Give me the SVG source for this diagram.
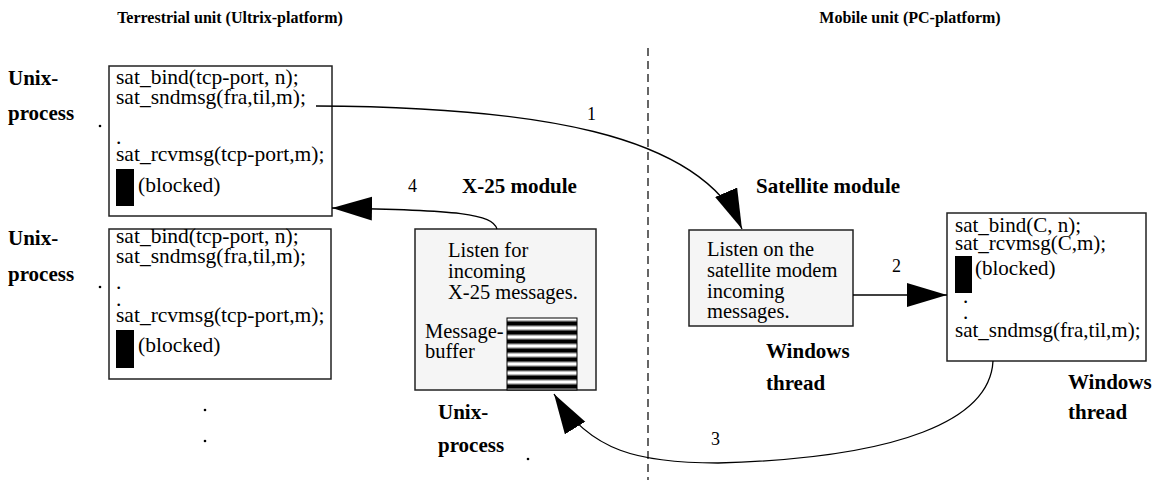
<svg xmlns="http://www.w3.org/2000/svg" width="1161" height="480" viewBox="0 0 1161 480">
  <style>
    .code { font-family: "Liberation Serif", "Times New Roman", serif; font-size: 21.5px; fill: #000; }
    .code-r { font-family: "Liberation Serif", "Times New Roman", serif; font-size: 21px; fill: #000; }
    .txt { font-family: "Liberation Serif", "Times New Roman", serif; font-size: 20.5px; fill: #000; }
    .lbl { font-family: "Liberation Serif", "Times New Roman", serif; font-size: 21px; font-weight: bold; fill: #000; }
    .head { font-family: "Liberation Serif", "Times New Roman", serif; font-size: 16px; font-weight: bold; fill: #000; }
    .num { font-family: "Liberation Serif", "Times New Roman", serif; font-size: 18px; fill: #000; }
    .box { fill: #fff; stroke: #222; stroke-width: 1.5; }
    .mod { fill: #f5f5f5; stroke: #222; stroke-width: 1.5; }
    .blk { fill: #000; }
    .wire { fill: none; stroke: #000; stroke-width: 1.3; }
    .dot { fill: #000; }
  </style>
  <defs>
    <marker id="head" markerUnits="userSpaceOnUse" markerWidth="42" markerHeight="26" refX="40" refY="12" orient="auto">
      <path d="M0,0 L40,12 L0,24 z" fill="#000"/>
    </marker>
    <pattern id="stripes" patternUnits="userSpaceOnUse" x="507" y="318" width="70" height="9">
      <rect x="0" y="0" width="70" height="9" fill="#fff"/>
      <rect x="0" y="2" width="70" height="1" fill="#bbb"/>
      <rect x="0" y="3" width="70" height="1" fill="#555"/>
      <rect x="0" y="4" width="70" height="3" fill="#000"/>
      <rect x="0" y="7" width="70" height="1" fill="#555"/>
      <rect x="0" y="8" width="70" height="1" fill="#bbb"/>
    </pattern>
  </defs>

  <!-- platform headings and separator -->
  <g id="headings">
    <text class="head" x="230" y="23" text-anchor="middle">Terrestrial unit (Ultrix-platform)</text>
    <text class="head" x="910" y="23" text-anchor="middle">Mobile unit (PC-platform)</text>
    <line x1="648" y1="48" x2="648" y2="480" stroke="#000" stroke-width="1.2" stroke-dasharray="8,5"/>
  </g>

  <!-- first Unix process -->
  <g id="unix-process-1">
    <text class="lbl" x="8" y="85">Unix-</text>
    <text class="lbl" x="8" y="120">process</text>
    <circle class="dot" cx="100" cy="126" r="1.3"/>
    <rect class="box" x="109" y="66" width="223" height="150"/>
    <text class="code" x="116" y="84">sat_bind(tcp-port, n);</text>
    <text class="code" x="116" y="104">sat_sndmsg(fra,til,m);</text>
    <text class="code" x="116" y="144">.</text>
    <text class="code" x="116" y="161">sat_rcvmsg(tcp-port,m);</text>
    <rect class="blk" x="116" y="169" width="18" height="37"/>
    <text class="code" x="138" y="192">(blocked)</text>
  </g>

  <!-- second Unix process -->
  <g id="unix-process-2">
    <text class="lbl" x="8" y="245">Unix-</text>
    <text class="lbl" x="8" y="281">process</text>
    <circle class="dot" cx="100" cy="287" r="1.3"/>
    <rect class="box" x="109" y="229" width="222" height="150"/>
    <text class="code" x="116" y="243">sat_bind(tcp-port, n);</text>
    <text class="code" x="116" y="263">sat_sndmsg(fra,til,m);</text>
    <text class="code" x="116" y="289">.</text>
    <text class="code" x="116" y="306">.</text>
    <text class="code" x="116" y="322">sat_rcvmsg(tcp-port,m);</text>
    <rect class="blk" x="116" y="330" width="18" height="38"/>
    <text class="code" x="138" y="352">(blocked)</text>
  </g>

  <!-- further processes elided -->
  <g id="more-processes">
    <circle class="dot" cx="205" cy="410" r="1.3"/>
    <circle class="dot" cx="205" cy="441" r="1.3"/>
  </g>

  <!-- X-25 module -->
  <g id="x25-module">
    <text class="lbl" x="462" y="193">X-25 module</text>
    <rect class="mod" x="415" y="229" width="181" height="161"/>
    <text class="txt" x="448" y="257">Listen for</text>
    <text class="txt" x="448" y="278">incoming</text>
    <text class="txt" x="448" y="299">X-25 messages.</text>
    <text class="txt" x="425" y="338">Message-</text>
    <text class="txt" x="425" y="358">buffer</text>
    <rect x="507" y="318" width="70" height="72" fill="url(#stripes)" stroke="#000" stroke-width="1"/>
    <text class="lbl" x="438" y="419">Unix-</text>
    <text class="lbl" x="438" y="452">process</text>
    <circle class="dot" cx="528" cy="459" r="1.3"/>
  </g>

  <!-- Satellite module -->
  <g id="satellite-module">
    <text class="lbl" x="756" y="193">Satellite module</text>
    <rect class="mod" x="689" y="230" width="164" height="96"/>
    <text class="txt" x="707" y="256">Listen on the</text>
    <text class="txt" x="707" y="277">satellite modem</text>
    <text class="txt" x="707" y="298">incoming</text>
    <text class="txt" x="707" y="318">messages.</text>
    <text class="lbl" x="766" y="358">Windows</text>
    <text class="lbl" x="766" y="390">thread</text>
  </g>

  <!-- Windows thread on the mobile unit -->
  <g id="windows-thread">
    <rect class="box" x="947" y="213" width="199" height="148"/>
    <text class="code-r" x="955" y="232">sat_bind(C, n);</text>
    <text class="code-r" x="955" y="250">sat_rcvmsg(C,m);</text>
    <rect class="blk" x="955" y="256" width="17" height="37"/>
    <text class="code-r" x="975" y="275">(blocked)</text>
    <text class="code-r" x="963" y="303">.</text>
    <text class="code-r" x="963" y="319">.</text>
    <text class="code-r" x="955" y="337">sat_sndmsg(fra,til,m);</text>
    <text class="lbl" x="1068" y="389">Windows</text>
    <text class="lbl" x="1068" y="419">thread</text>
  </g>

  <!-- message flow -->
  <g id="connectors">
    <path class="wire" d="M316,106 C530,107 700,132 742,229" marker-end="url(#head)"/>
    <path class="wire" d="M853,295 L947,295" marker-end="url(#head)"/>
    <path class="wire" d="M993,361 C990,420 900,458 718,463 C640,463 590,452 554,394" marker-end="url(#head)"/>
    <path class="wire" d="M497,229 C492,214 460,210 332,208" marker-end="url(#head)"/>
    <text class="num" x="587" y="120">1</text>
    <text class="num" x="892" y="272">2</text>
    <text class="num" x="711" y="445">3</text>
    <text class="num" x="408" y="192">4</text>
  </g>
</svg>
